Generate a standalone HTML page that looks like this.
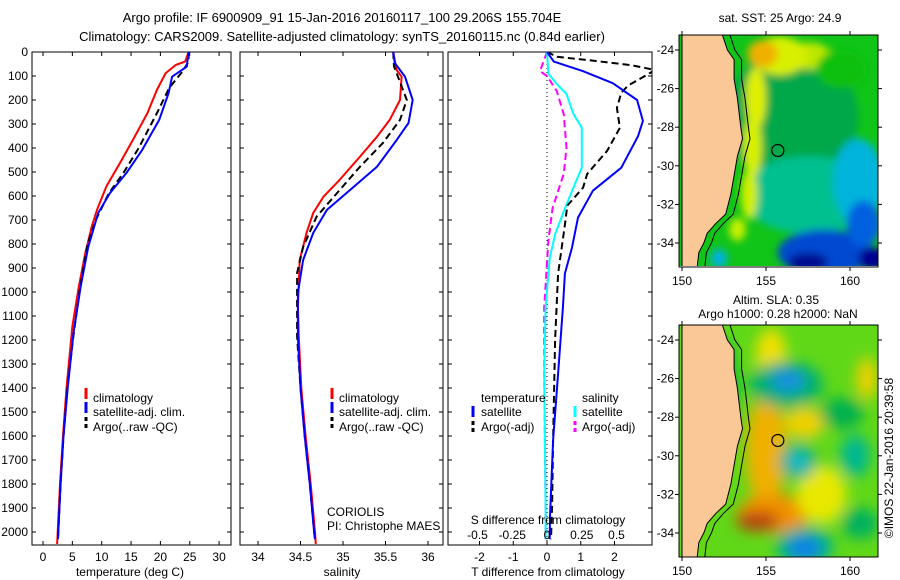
<!DOCTYPE html>
<html><head><meta charset="utf-8">
<style>
html,body{margin:0;padding:0;background:#fff;}
svg{display:block;font-family:"Liberation Sans",sans-serif;}
text{font-size:12px;fill:#000;}
</style></head>
<body>
<svg id="chart" width="900" height="580" viewBox="0 0 900 580" xmlns="http://www.w3.org/2000/svg">
<defs>
<clipPath id="c1"><rect x="32" y="52" width="199" height="493"/></clipPath>
<clipPath id="c2"><rect x="240" y="52" width="203" height="493"/></clipPath>
<clipPath id="c3"><rect x="448" y="52" width="204" height="493"/></clipPath>
<clipPath id="cm1"><rect x="679" y="35" width="199" height="231"/></clipPath>
<clipPath id="cm2"><rect x="679" y="325" width="199" height="232"/></clipPath>
<filter id="b1" x="-50%" y="-50%" width="200%" height="200%"><feGaussianBlur stdDeviation="4"/></filter>
<filter id="b2" x="-50%" y="-50%" width="200%" height="200%"><feGaussianBlur stdDeviation="7"/></filter>
</defs>
<text x="342" y="22" text-anchor="middle" style="font-size:13px">Argo profile: IF 6900909_91 15-Jan-2016 20160117_100 29.206S 155.704E</text>
<text x="342" y="41" text-anchor="middle" style="font-size:13px">Climatology: CARS2009. Satellite-adjusted climatology: synTS_20160115.nc (0.84d earlier)</text>
<g id="g"></g>
</svg>
<script>
// ---------- data ----------
const depthTicks = [0,100,200,300,400,500,600,700,800,900,1000,1100,1200,1300,1400,1500,1600,1700,1800,1900,2000];
const tempTicks = [0,5,10,15,20,25,30];
const salTicks = [34,34.5,35,35.5,36];
const tdiffTicks = [-2,-1,0,1,2];
const sdiffTicks = [-0.5,-0.25,0,0.25,0.5];

const tClimDepth = [0,40,54,88,158,254,367,463,560,658,728,838,978,1145,1400,1600,1800,2000,2050];
const tClimVal   = [24.8,24.2,22.6,20.9,19.4,17.8,15.3,13.1,10.8,9.2,8.3,7.2,6.1,5.0,4.0,3.4,2.9,2.5,2.4];
const tSatDepth  = [0,61,103,171,283,408,504,588,671,813,979,1171,1400,1600,1800,2000,2030];
const tSatVal    = [24.8,24.5,22.0,21.4,19.8,16.9,14.2,11.4,9.4,7.7,6.4,5.2,4.2,3.5,3.0,2.6,2.55];
const tArgoDepth = [0,40,80,150,250,400,500,590,700,800,1000,1200,1400,1600,1800,2000,2030];
const tArgoVal   = [24.8,24.8,23.8,21.5,19.5,16.3,13.8,11.2,9.0,7.6,6.2,5.1,4.15,3.5,3.0,2.6,2.55];

const sClimDepth = [0,75,103,200,283,353,436,533,603,671,754,867,1061,1186,1400,1600,1800,2000,2050];
const sClimVal   = [35.59,35.63,35.69,35.67,35.55,35.40,35.20,34.96,34.77,34.65,34.57,34.49,34.47,34.48,34.51,34.56,34.62,34.67,34.68];
const sSatDepth  = [0,46,103,200,296,367,478,588,658,754,867,1004,1186,1400,1600,1800,2000,2030];
const sSatVal    = [35.59,35.61,35.73,35.82,35.77,35.63,35.40,35.04,34.81,34.65,34.53,34.47,34.47,34.50,34.55,34.61,34.66,34.67];
const sArgoDepth = [0,60,88,200,283,379,478,588,686,813,921,1186,1400,1600,1800,2000,2030];
const sArgoVal   = [35.59,35.6,35.63,35.75,35.67,35.47,35.20,34.93,34.69,34.53,34.46,34.46,34.5,34.55,34.61,34.66,34.67];

const dTSatDepth = [0,40,80,130,200,287,350,482,578,690,815,923,1065,1340,1617,1937,2030];
const dTSatVal   = [0,0.2,1.07,1.95,2.67,2.84,2.7,2.2,1.36,0.92,0.74,0.53,0.47,0.33,0.18,0.09,0.08];
const dTArgoDepth = [0,20,35,55,75,100,140,170,233,316,412,508,565,640,720,923,1200,1617,1895,2030];
const dTArgoVal   = [0,0.3,1.3,2.5,3.2,2.9,2.4,2.2,2.07,2.16,1.78,1.19,1.07,0.6,0.53,0.33,0.24,0.18,0.15,0.12];
const dSSatDepth = [0,90,133,175,258,316,482,537,650,757,857,1065,1340,1895,2030];
const dSSatVal   = [0,0.01,0.07,0.14,0.19,0.25,0.25,0.21,0.13,0.06,0.02,-0.01,-0.02,-0.01,-0.01];
const dSArgoDepth = [0,80,100,162,258,400,508,650,786,1065,1340,1895,2030];
const dSArgoVal   = [0,-0.05,0,0.07,0.12,0.14,0.12,0.04,0.01,-0.02,-0.02,-0.01,-0.01];

// ---------- helpers ----------
const NS="http://www.w3.org/2000/svg";
const G=document.getElementById('g');
const BOT=545;
function mk(tag,attrs,parent){const e=document.createElementNS(NS,tag);for(const k in attrs)e.setAttribute(k,attrs[k]);(parent||G).appendChild(e);return e;}
const yD=d=>52+d*0.24;
const xT=v=>43+v*5.87;
const xS=v=>258+(v-34)*85;
const xDT=v=>547+v*33.75;
const xDS=v=>547+v*139;

function frame(x0,x1,name){
  const r=mk('rect',{x:x0,y:52,width:x1-x0,height:BOT-52,fill:'none',stroke:'#000','stroke-width':1});
  
  
  depthTicks.forEach(d=>{
    mk('line',{x1:x0,x2:x0+4,y1:yD(d),y2:yD(d),stroke:'#000'});
    mk('line',{x1:x1,x2:x1-4,y1:yD(d),y2:yD(d),stroke:'#000'});
  });
}
function xticks(vals,fx,labels){
  vals.forEach(v=>{
    const x=fx(v);
    mk('line',{x1:x,x2:x,y1:52,y2:56,stroke:'#000'});
    mk('line',{x1:x,x2:x,y1:BOT,y2:BOT-4,stroke:'#000'});
    if(labels){const t=mk('text',{x:x,y:561,'text-anchor':'middle'});t.textContent=String(v);
      
      }
  });
}
function line(depths,vals,fx,color,dash,clip,name,w){
  const pts=depths.map((d,i)=>fx(vals[i]).toFixed(1)+','+yD(d).toFixed(1)).join(' ');
  const a={points:pts,fill:'none',stroke:color,'stroke-width':w||2,'clip-path':'url(#'+clip+')','stroke-linejoin':'round'};
  if(dash)a['stroke-dasharray']=dash;
  const p=mk('polyline',a);
  
  
}
function txt(x,y,s,name,anchor){const t=mk('text',{x:x,y:y,'text-anchor':anchor||'start'});t.textContent=s;
  
  return t;}
function legMark(x,y,color,dash){mk('line',{x1:x,x2:x,y1:y-10,y2:y+1,stroke:color,'stroke-width':3,'stroke-dasharray':dash||''});}

// ---------- panel 1 ----------
frame(32,231,'temperature-panel');
depthTicks.forEach(d=>{const t=mk('text',{x:28,y:yD(d)+4,'text-anchor':'end'});t.textContent=String(d);
  
  });
xticks(tempTicks,xT,true);
line(tClimDepth,tClimVal,xT,'#f00',null,'c1','temp-climatology-line');
line(tArgoDepth,tArgoVal,xT,'#000','7,4','c1','temp-argo-line');
line(tSatDepth,tSatVal,xT,'#00f',null,'c1','temp-satellite-line');
txt(130,576,'temperature (deg C)','x-axis-title-temperature','middle');
legMark(86,398,'#f00');legMark(86,412,'#00f');legMark(86,427,'#000','4,3');
txt(93,402,'climatology','legend-climatology');
txt(93,416,'satellite-adj. clim.','legend-satellite');
txt(93,431,'Argo(..raw -QC)','legend-argo');

// ---------- panel 2 ----------
frame(240,443,'salinity-panel');
xticks(salTicks,xS,true);
line(sClimDepth,sClimVal,xS,'#f00',null,'c2','sal-climatology-line');
line(sArgoDepth,sArgoVal,xS,'#000','7,4','c2','sal-argo-line');
line(sSatDepth,sSatVal,xS,'#00f',null,'c2','sal-satellite-line');
txt(342,576,'salinity','x-axis-title-salinity','middle');
legMark(332,398,'#f00');legMark(332,412,'#00f');legMark(332,427,'#000','4,3');
txt(339,402,'climatology','legend2-climatology');
txt(339,416,'satellite-adj. clim.','legend2-satellite');
txt(339,431,'Argo(..raw -QC)','legend2-argo');
txt(327,516,'CORIOLIS','data-centre-label');
txt(327,530,'PI: Christophe MAES','pi-label');

// ---------- panel 3 ----------
frame(448,652,'difference-panel');
xticks(tdiffTicks,xDT,true);
mk('line',{x1:547,x2:547,y1:52,y2:BOT,stroke:'#000','stroke-dasharray':'1,3'});
line(dSArgoDepth,dSArgoVal,xDS,'#f0f','7,4','c3','sdiff-argo-line');
line(dSSatDepth,dSSatVal,xDS,'#0ff',null,'c3','sdiff-satellite-line');
line(dTArgoDepth,dTArgoVal,xDT,'#000','7,4','c3','tdiff-argo-line');
line(dTSatDepth,dTSatVal,xDT,'#00f',null,'c3','tdiff-satellite-line');
txt(548,524,'S difference from climatology','s-axis-title','middle');
sdiffTicks.forEach(v=>{txt(xDS(v),539,String(v),'s-tick-label','middle');});
txt(548,576,'T difference from climatology','t-axis-title','middle');
txt(481,402,'temperature','legend3-temperature');
txt(481,416,'satellite','legend3-t-satellite');
txt(481,431,'Argo(-adj)','legend3-t-argo');
txt(582,402,'salinity','legend3-salinity');
txt(582,416,'satellite','legend3-s-satellite');
txt(582,431,'Argo(-adj)','legend3-s-argo');
legMark(473,416,'#00f');legMark(473,431,'#000','4,3');
legMark(575,416,'#0ff');legMark(575,431,'#f0f','4,3');

// ---------- maps ----------
const lonTicks=[150,155,160];
const latTicks=[-24,-26,-28,-30,-32,-34];
const coastLon=[150,152.4,152.7,153.1,153.1,153.3,153.5,153.6,153.3,153.1,152.9,152.6,152.0,151.5,151.3,151.0,150.9,150];
const coastLat=[-23.2,-23.2,-24,-24.5,-25.5,-26.5,-28,-28.6,-29.5,-30.5,-31.5,-32.5,-33,-33.5,-34,-34.5,-35.3,-35.3];
const sstBlobs=[ // lon,lat,rxdeg,rydeg,color
 [156.5,-27.5,4,3.5,'#00a848'],[157.5,-31.5,4,2,'#00c090'],[160.5,-30.8,1.5,2.2,'#00b4dc'],
 [158.5,-34.5,2.8,1.2,'#0048d0'],[160.8,-33,1,1.2,'#0060e0'],[161.3,-34.8,0.8,0.6,'#000090'],[157.5,-35,1.2,0.5,'#000a90'],
 [157.5,-24.3,1.4,0.7,'#c0e800'],[155.8,-24.3,1.6,1.0,'#d8f000'],[154.8,-24.2,0.9,0.7,'#f0b000'],
 [154.4,-26.5,0.6,1.6,'#e0f000'],[154.2,-29,0.55,1.6,'#d8f000'],[154.0,-31.5,0.5,1.3,'#d0f000'],[153.3,-33.3,0.5,0.6,'#c8f000'],
 [152.2,-34.8,0.5,0.5,'#00b0e0'],[159.5,-25,1.5,1,'#10c010']];
const slaBlobs=[
 [155,-29.8,1.2,3,'#f0b000'],[155.3,-24.8,0.9,1.4,'#f0e000'],[157.3,-28.3,1.2,0.8,'#f0d000'],
 [155.5,-33,2.2,1,'#f09000'],[154.5,-33.4,1.3,0.5,'#b84010'],[158.3,-32,1.5,1.5,'#e8e800'],[161,-26,0.6,1.1,'#f0d000'],
 [156.2,-26.3,2.2,1.2,'#00b070'],[156.3,-26.1,1.0,0.6,'#1890e0'],[156.9,-30.3,1.1,0.9,'#00b090'],[156.9,-30.3,0.5,0.4,'#20c0d8'],
 [157.3,-34.7,1.7,1,'#00b090'],[157.3,-34.8,1.0,0.6,'#1080e8'],[160.3,-30,0.9,1.1,'#00b890'],
 [159.5,-27.8,1.3,0.8,'#00b050'],[160.6,-33.5,1.1,0.8,'#00b060'],[152.5,-27,0.8,3,'#00b040']];
function map(top,base,blobs,blur,clip,name,bottomLabelY){
  const lx=lon=>682+(lon-150)*16.8, ly=lat=>top+15+(-24-lat)*19.3;
  const g=mk('g',{'clip-path':'url(#'+clip+')'});
  
  
  mk('rect',{x:679,y:top,width:199,height:232,fill:base},g);
  const bg=mk('g',{filter:'url(#'+blur+')'},g);
  blobs.forEach(b=>{mk('ellipse',{cx:lx(b[0]),cy:ly(b[1]),rx:b[2]*16.8,ry:b[3]*19.3,fill:b[4]},bg);});
  const pts=coastLon.map((l,i)=>lx(l).toFixed(1)+','+ly(coastLat[i]).toFixed(1)).join(' ');
  const land=mk('polygon',{points:pts,fill:'#f9c896',stroke:'#000','stroke-width':1},g);
  
  
  const shelf=coastLon.slice(1,17).map((l,i)=>lx(l+0.45).toFixed(1)+','+ly(coastLat[i+1]).toFixed(1)).join(' ');
  mk('polyline',{points:shelf,fill:'none',stroke:'#000','stroke-width':1},g);
  const c=mk('circle',{cx:lx(155.704),cy:ly(-29.206),r:6,fill:'none',stroke:'#000','stroke-width':1.2});
  
  
  mk('rect',{x:679,y:top,width:199,height:232,fill:'none',stroke:'#000'});
  lonTicks.forEach(l=>{mk('line',{x1:lx(l),x2:lx(l),y1:top,y2:top-4,stroke:'#000'});
    mk('line',{x1:lx(l),x2:lx(l),y1:top+232,y2:top+236,stroke:'#000'});
    txt(lx(l),bottomLabelY,String(l),'map-lon-label','middle');});
  latTicks.forEach(l=>{mk('line',{x1:679,x2:675,y1:ly(l),y2:ly(l),stroke:'#000'});
    mk('line',{x1:878,x2:882,y1:ly(l),y2:ly(l),stroke:'#000'});
    txt(674,ly(l)+4,String(l),'map-lat-label','end');});
}
map(35,'#10c418',sstBlobs,'b1','cm1','sst-map',285);
map(325,'#60d818',slaBlobs,'b2','cm2','sla-map',575);
txt(780,22,'sat. SST: 25 Argo: 24.9','sst-map-title','middle');
txt(776,304,'Altim. SLA: 0.35','sla-map-title','middle');
txt(778,318,'Argo h1000: 0.28 h2000: NaN','sla-map-subtitle','middle');
const ts=txt(0,0,'©IMOS 22-Jan-2016 20:39:58','timestamp-label','middle');
ts.setAttribute('transform','translate(893,458) rotate(-90)');
</script>
</body></html>
